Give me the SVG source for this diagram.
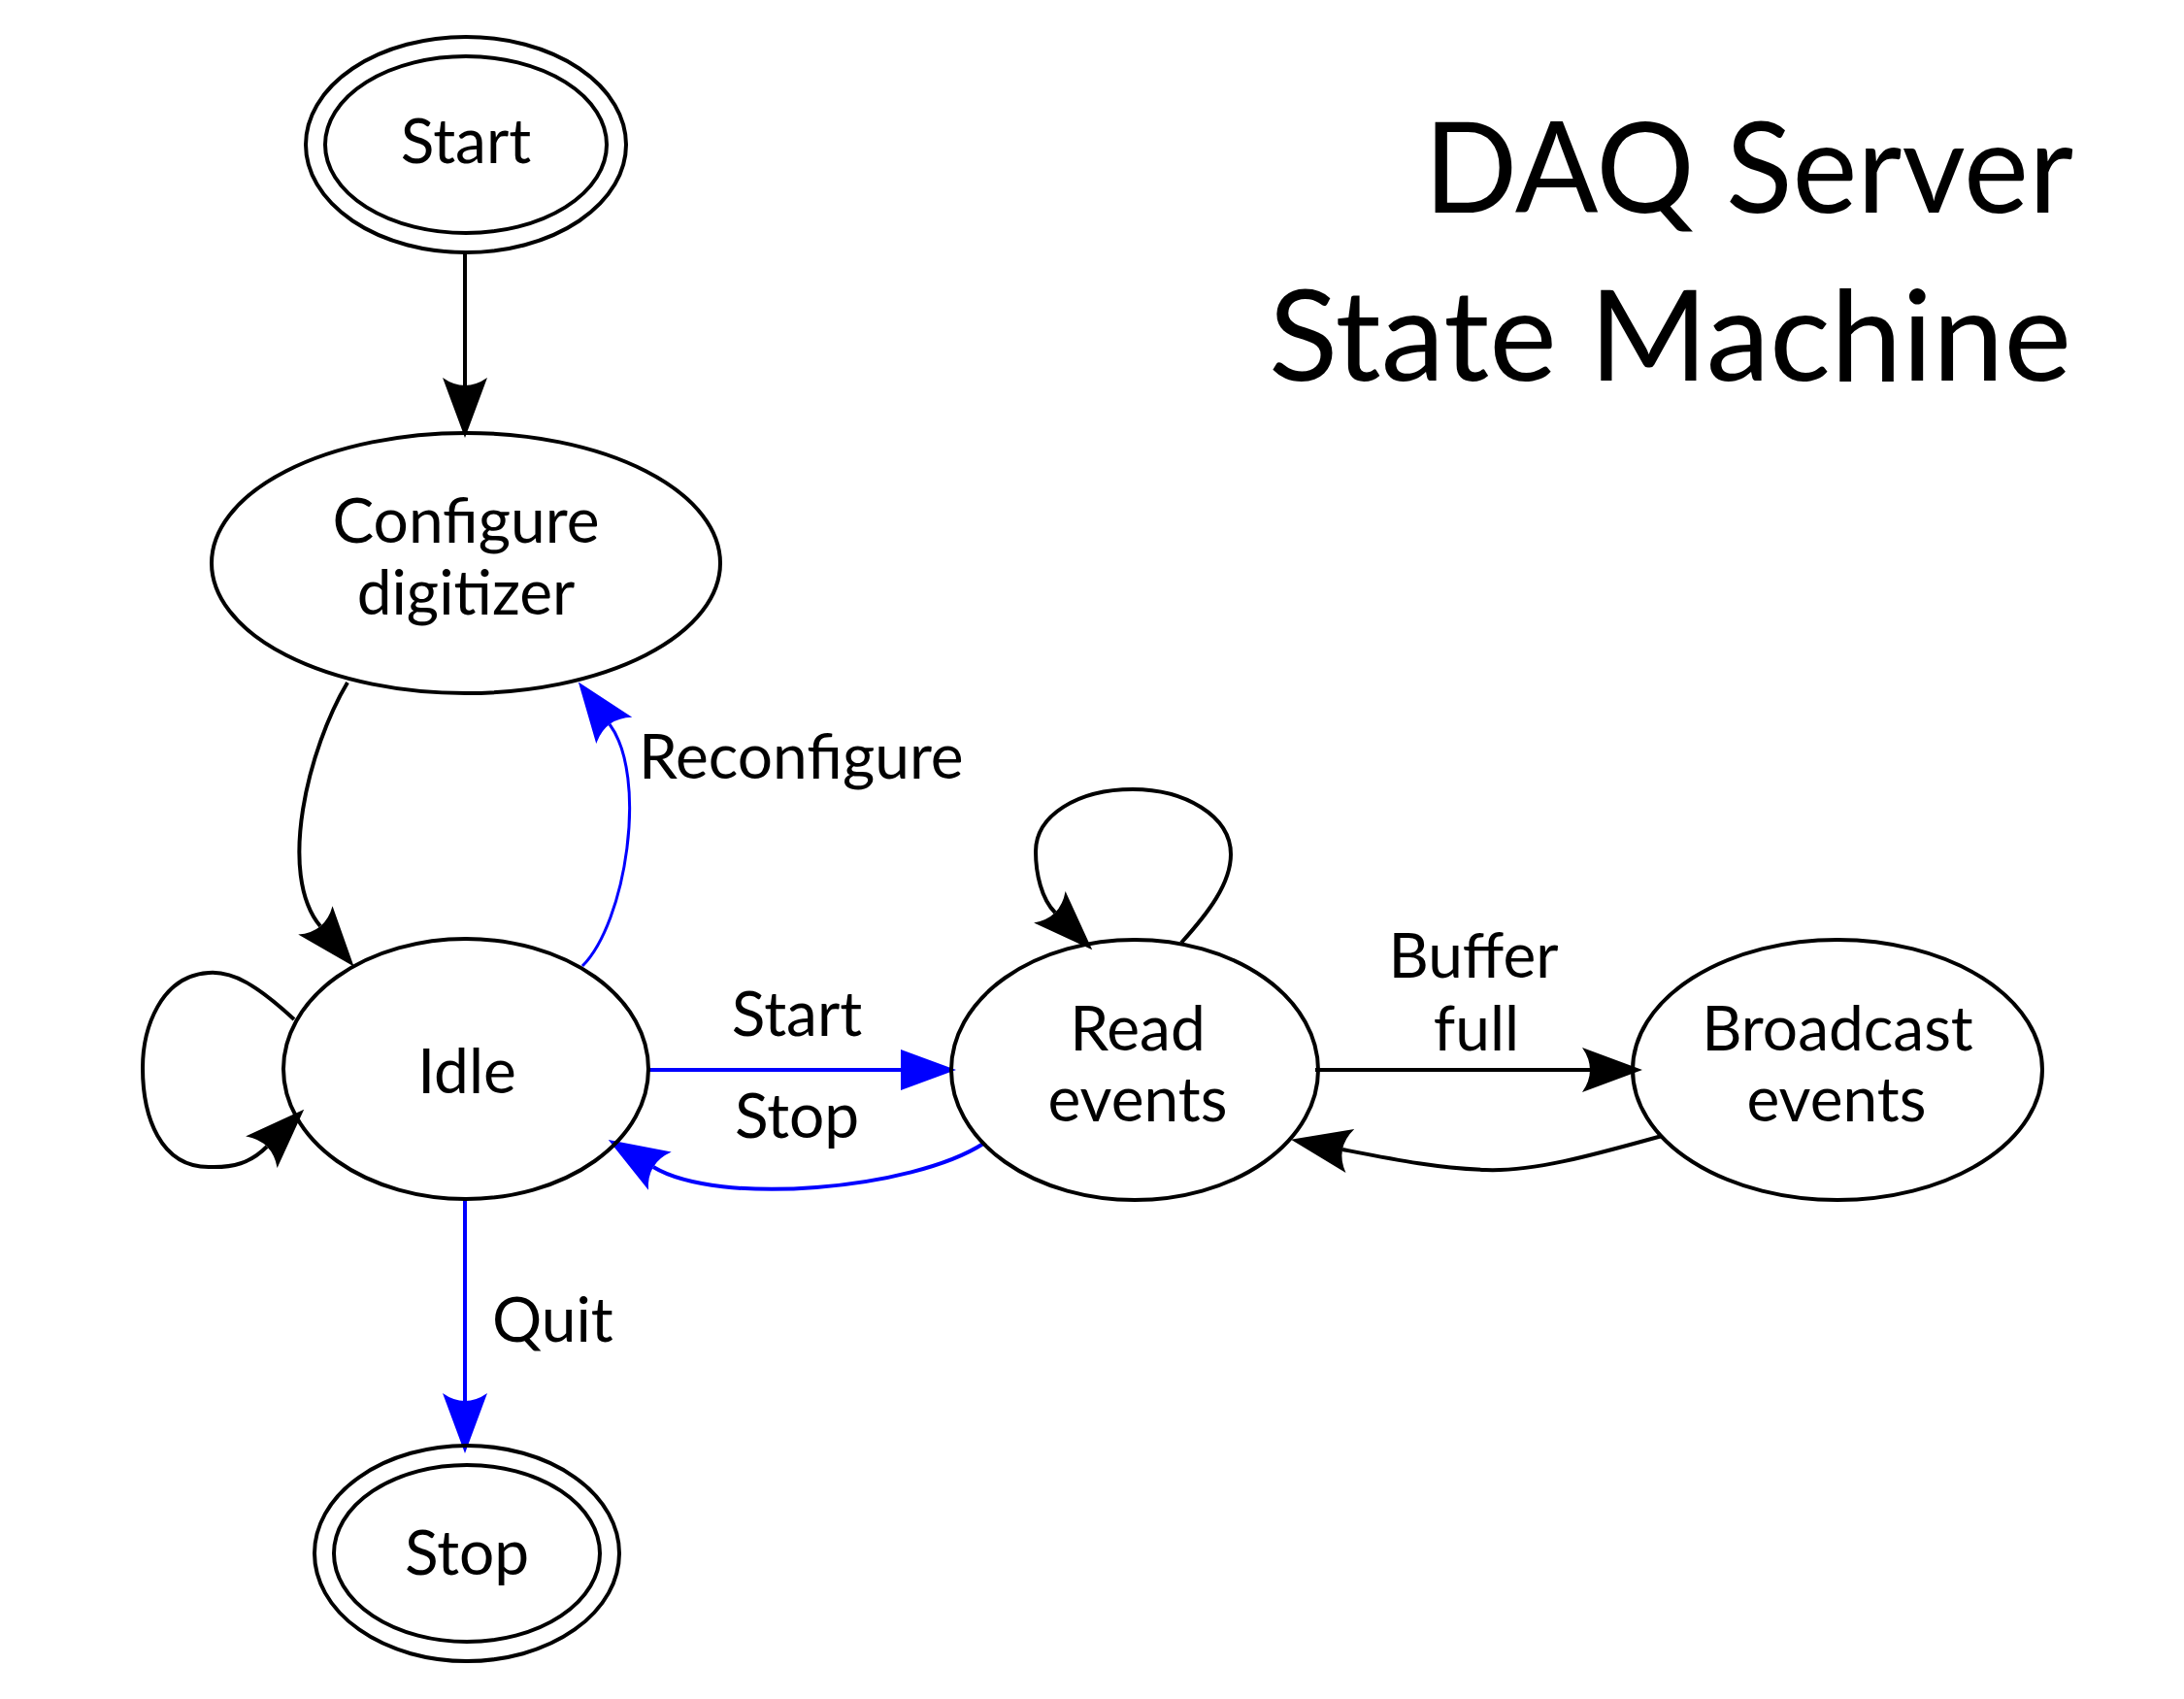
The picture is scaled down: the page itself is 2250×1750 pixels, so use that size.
<svg xmlns="http://www.w3.org/2000/svg" width="2250" height="1750" viewBox="0 0 2250 1750">
<style>
.node ellipse{fill:none;stroke:#000;stroke-width:4}
.lbl{font-family:Lato,"Noto Sans",sans-serif;font-size:64px;fill:#000}
.title{font-family:Lato,"Noto Sans",sans-serif;font-size:130px;fill:#000}
.mid{text-anchor:middle}
.edge{fill:none;stroke-width:4}
.blk{stroke:#000}
.blu{stroke:#0000ff}
</style>
<defs>
<marker id="ab" markerUnits="userSpaceOnUse" viewBox="-10 -30 70 60" markerWidth="70" markerHeight="60" refX="0" refY="0" orient="auto" overflow="visible">
<path d="M54,0 L-8,-23 Q8,0 -8,23 Z" fill="#000"/>
</marker>
<marker id="au" markerUnits="userSpaceOnUse" viewBox="-10 -30 70 60" markerWidth="70" markerHeight="60" refX="0" refY="0" orient="auto" overflow="visible">
<path d="M54,0 L-8,-23 Q8,0 -8,23 Z" fill="#0000ff"/>
</marker>
<marker id="aus" markerUnits="userSpaceOnUse" viewBox="-10 -30 70 60" markerWidth="70" markerHeight="60" refX="0" refY="0" orient="auto" overflow="visible">
<path d="M57,0 L0,-21 L0,21 Z" fill="#0000ff"/>
</marker>
</defs>
<rect width="2250" height="1750" fill="#fff"/>
<g id="title">
<text class="title" x="1467" y="219" textLength="669" lengthAdjust="spacingAndGlyphs">DAQ Server</text>
<text class="title" x="1307" y="392" textLength="827" lengthAdjust="spacingAndGlyphs">State Machine</text>
</g>
<g id="edges">
<path class="edge blk" d="M479,260 L479,397" marker-end="url(#ab)"/>
<path class="edge blk" d="M358,703 C318,770 285,900 330,954" marker-end="url(#ab)"/>
<path class="edge blu" style="stroke-width:3" d="M600,995 C645,950 668,800 628,746" marker-end="url(#au)"/>
<path class="edge blk" d="M303,1050 C265,1015 240,1000 215,1002 C165,1005 147,1060 147,1100 C147,1150 165,1202 215,1202 C240,1203 258,1198 275,1181" marker-end="url(#ab)"/>
<path class="edge blu" d="M667,1102 L928,1102" marker-end="url(#aus)"/>
<path class="edge blu" d="M1013,1178 C940,1225 741,1243 673,1202" marker-end="url(#au)"/>
<path class="edge blk" d="M1217,971 C1245,940 1268,910 1268,880 C1268,840 1220,813 1167,813 C1110,813 1067,840 1067,877 C1067,900 1073,926 1087,940" marker-end="url(#ab)"/>
<path class="edge blk" d="M1355,1102 L1638,1102" marker-end="url(#ab)"/>
<path class="edge blk" d="M1712,1170 C1640,1190 1580,1207 1530,1205 C1480,1203 1440,1195 1383,1184" marker-end="url(#ab)"/>
<path class="edge blu" d="M479,1235 L479,1443" marker-end="url(#au)"/>
<text class="lbl" x="658" y="802">Reconfigure</text>
<text class="lbl mid" x="821" y="1067">Start</text>
<text class="lbl mid" x="821" y="1172">Stop</text>
<text class="lbl mid" x="1518" y="1007">Buffer</text>
<text class="lbl mid" x="1521" y="1082">full</text>
<text class="lbl" x="507" y="1382">Quit</text>
</g>
<g id="node-start" class="node">
<ellipse cx="480" cy="149" rx="165" ry="111"/>
<ellipse cx="480" cy="149" rx="145" ry="91"/>
<text class="lbl mid" x="480" y="168">Start</text>
</g>
<g id="node-configure" class="node">
<ellipse cx="480" cy="580" rx="262" ry="134"/>
<text class="lbl mid" x="480" y="559">Configure</text>
<text class="lbl mid" x="480" y="633">digitizer</text>
</g>
<g id="node-idle" class="node">
<ellipse cx="480" cy="1101" rx="188" ry="134"/>
<text class="lbl mid" x="481" y="1126">Idle</text>
</g>
<g id="node-read" class="node">
<ellipse cx="1169" cy="1102" rx="189" ry="134"/>
<text class="lbl mid" x="1172" y="1082">Read</text>
<text class="lbl mid" x="1172" y="1155">events</text>
</g>
<g id="node-broadcast" class="node">
<ellipse cx="1893" cy="1102" rx="211" ry="134"/>
<text class="lbl mid" x="1893" y="1082">Broadcast</text>
<text class="lbl mid" x="1892" y="1155">events</text>
</g>
<g id="node-stop" class="node">
<ellipse cx="481" cy="1600" rx="157" ry="111"/>
<ellipse cx="481" cy="1600" rx="137" ry="91"/>
<text class="lbl mid" x="481" y="1622">Stop</text>
</g>
</svg>
